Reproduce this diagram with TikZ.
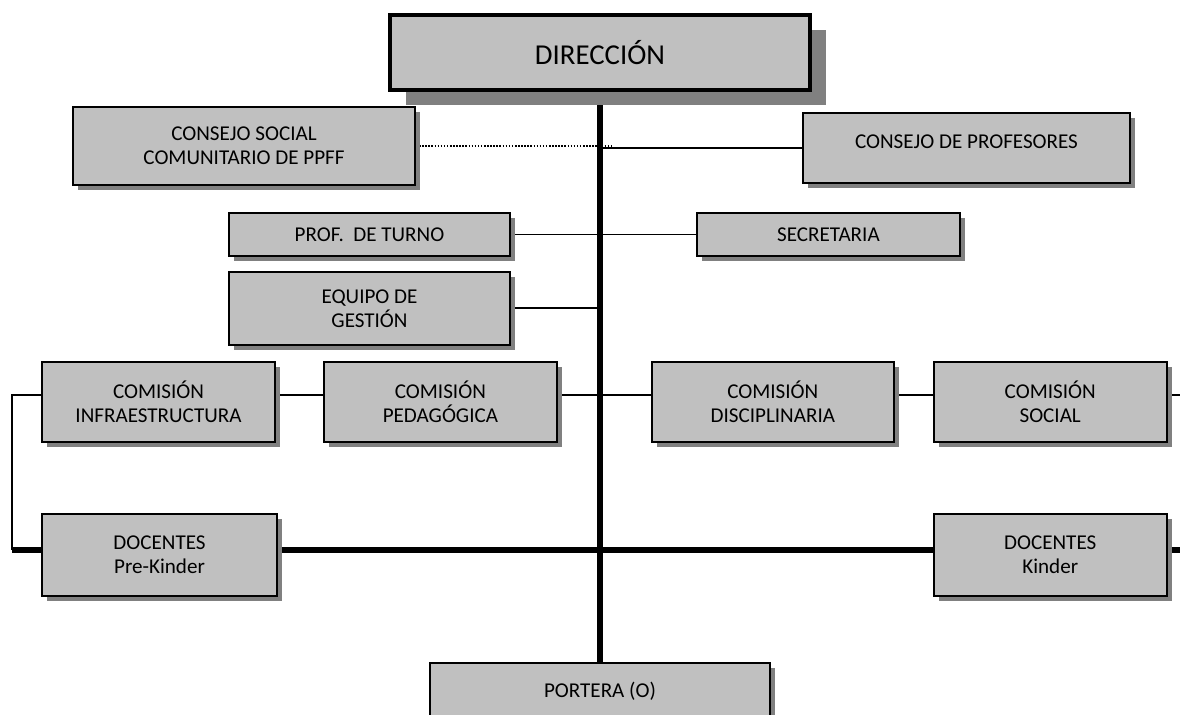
\documentclass[tikz,border=0pt]{standalone}
\usepackage{fontspec}
\setmainfont{Carlito}
\usetikzlibrary{positioning,shadows,backgrounds}
\definecolor{boxGray}{HTML}{C0C0C0}
\definecolor{shadowGray}{HTML}{808080}
\tikzstyle{plainBox} = [rectangle, draw=black, fill=boxGray, align=center, inner sep=0pt]
\tikzstyle{recNode} = [plainBox, line width=1.3pt, font=\fontsize{15}{17}\selectfont, drop shadow={shadow xshift=0.125cm, shadow yshift=-0.125cm, fill=shadowGray, opacity=1}]
\tikzstyle{topNode} = [plainBox, line width=2.6pt, font=\fontsize{20.5}{24}\selectfont, drop shadow={shadow xshift=0.4cm, shadow yshift=-0.375cm, fill=shadowGray, opacity=1}]
\tikzstyle{link} = [line width=1.4pt, draw=black]
\tikzstyle{trunk} = [line width=3.6pt, draw=black]
\tikzstyle{dottedLink} = [line width=1.2pt, dash pattern=on 1.1pt off 1.1pt, draw=black]

\begin{document}
\begin{tikzpicture}[x=0.025cm, y=-0.025cm]
        \useasboundingbox (0,0) rectangle (1180,715);
        \clip (0,0) rectangle (1180,715);
        \begin{pgfonlayer}{background}
        \fill[white] (0,0) rectangle (1180,715);
        \end{pgfonlayer}

        \node (dir) [topNode, minimum width=10.5cm, minimum height=1.875cm] at (600,52.5) {DIRECCIÓN};
        \node (css) [recNode, minimum width=8.55cm, minimum height=1.95cm] at (244,146) 
        {CONSEJO SOCIAL\\COMUNITARIO DE PPFF};
        \node (cprof) [recNode, minimum width=8.175cm, minimum height=1.75cm, text depth=0.3cm] at (966.5,148) {CONSEJO DE PROFESORES};
        \node (prof) [recNode, minimum width=7.025cm, minimum height=1.075cm] at (369.5,234.5) {PROF.~~DE TURNO};
        \node (secr) [recNode, right=4.625cm of prof, minimum width=6.575cm, minimum height=1.075cm] {SECRETARIA};
        \node (equipo) [recNode, below=0.35cm of prof, minimum width=7.025cm, minimum height=1.825cm] {EQUIPO DE\\GESTIÓN};
        \node (cinf) [recNode, minimum width=5.825cm, minimum height=2cm] at (158.5,402) {COMISIÓN\\INFRAESTRUCTURA};
        \node (cped) [recNode, right=1.175cm of cinf, minimum width=5.825cm, minimum height=2cm] {COMISIÓN\\PEDAGÓGICA};
        \node (cdis) [recNode, right=2.325cm of cped, minimum width=6.05cm, minimum height=2cm] {COMISIÓN\\DISCIPLINARIA};
        \node (csoc) [recNode, right=0.95cm of cdis, minimum width=5.825cm, minimum height=2cm] {COMISIÓN\\SOCIAL};
        \node (dpk) [recNode, minimum width=5.875cm, minimum height=2.05cm] at (159.5,555) {DOCENTES\\Pre-Kinder};
        \node (dk) [recNode, minimum width=5.825cm, minimum height=2.05cm] at (csoc |- dpk) {DOCENTES\\Kinder};
        \node (port) [recNode, minimum width=8.5cm, minimum height=1.4cm] at (600,691) {PORTERA (O)};

        \coordinate (cl) at (12,395);
        \coordinate (cr) at (1180,395);
        \coordinate (dl) at (12,550);
        \coordinate (dr) at (1180,550);
        \coordinate (dotEnd) at (612,146);

        \begin{pgfonlayer}{background}
        \draw [trunk] (dir) -- (port);
        \draw [dottedLink] (css.east) -- (dotEnd);
        \draw [link] (cprof.west) -- (cprof.west -| dir.center);
        \draw [link] (prof) -- (secr);
        \draw [link] (equipo) -- (equipo -| dir.center);
        \draw [link] (dl) -- (cl) -- (cr);
        \draw [trunk] (dl) -- (dr);
        \end{pgfonlayer}
\end{tikzpicture}
\end{document}
